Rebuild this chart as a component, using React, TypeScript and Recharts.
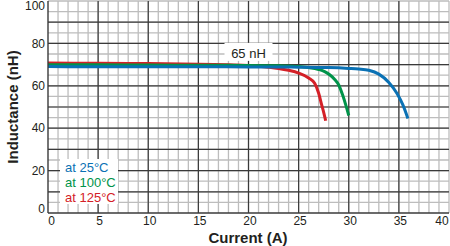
import React from "react";
import {
  LineChart,
  Line,
  XAxis,
  YAxis,
  ReferenceLine,
  ReferenceDot,
} from "recharts";

// Inductance vs. current at three temperatures
const current25 = [0, 5, 10, 15, 20, 25, 28, 30, 31, 32, 33, 34, 34.8, 35.4, 35.9];
const inductance25 = [69.1, 69.0, 69.0, 69.0, 68.9, 68.8, 68.6, 68.2, 67.9, 67.3, 65.5, 61.6, 56.5, 51.0, 44.6];

const current100 = [0, 5, 10, 15, 20, 23, 25, 26, 27, 27.6, 28.1, 28.6, 29, 29.4, 29.7, 30];
const inductance100 = [69.9, 69.9, 69.8, 69.7, 69.6, 69.4, 69.1, 68.6, 67.7, 66.7, 65.2, 63.0, 60.4, 55.5, 51.0, 46.0];

const current125 = [0, 5, 10, 15, 18, 20, 22, 23, 24, 25, 26, 26.6, 27, 27.3, 27.5, 27.7];
const inductance125 = [70.7, 70.6, 70.5, 70.2, 69.9, 69.6, 68.8, 68.2, 67.3, 66.0, 63.7, 61.2, 56.5, 51.0, 47.5, 43.5];

const xTicks = [0, 5, 10, 15, 20, 25, 30, 35, 40];
const yTicks = [0, 20, 40, 60, 80, 100];

const xMinorGrid = Array.from({ length: 40 }, (_, i) => i + 1);
const xMajorGrid = [5, 10, 15, 20, 25, 30, 35];
const yMinorGrid = Array.from({ length: 20 }, (_, i) => (i + 1) * 5);
const yMajorGrid = [10, 20, 30, 40, 50, 60, 70, 80, 90];

const annotationX = 20;
const annotationY = 76;
const annotationText = "65 nH";

const seriesNames = ["at 25°C", "at 100°C", "at 125°C"];
const COLORS = ["#0a71b4", "#00934a", "#d42027"];

const FONT = "'Liberation Sans', Arial, Helvetica, sans-serif";
const TEXT = "#231f20";
const MAJOR = "#3a3a3a";
const MINOR = "#bdbdbd";

const toPoints = (xs: number[], ys: number[]) =>
  xs.map((x, i) => ({ current: x, inductance: ys[i] }));

const data25 = toPoints(current25, inductance25);
const data100 = toPoints(current100, inductance100);
const data125 = toPoints(current125, inductance125);

const XTick = (props: any) => {
  const { x, y, payload } = props;
  const v = payload.value;
  const shift = v === 0 ? 3.5 : v === 40 ? -7 : 1.5;
  return (
    <text x={x + shift} y={y} dy="0.71em" textAnchor="middle" fontSize={12} fontFamily={FONT} fill={TEXT}>
      {v}
    </text>
  );
};

const YTick = (props: any) => {
  const { x, y, payload } = props;
  const v = payload.value;
  const shift = v === 100 ? 4.5 : v === 0 ? -4 : 0;
  return (
    <text x={x} y={y + shift} dy="0.355em" textAnchor="end" fontSize={12} fontFamily={FONT} fill={TEXT}>
      {v}
    </text>
  );
};

// Temperature key, boxed in white over the lower-left of the grid
const LegendBox = () => (
  <div
    style={{
      position: "absolute",
      left: 60,
      top: 159,
      background: "#ffffff",
      width: 58,
      height: 45,
      boxSizing: "border-box",
      padding: "1px 0 0 5px",
      fontFamily: FONT,
      fontSize: 13,
      lineHeight: "15px",
      textAlign: "left",
    }}
  >
    {seriesNames.map((name, i) => (
      <div key={name} style={{ color: COLORS[i], whiteSpace: "nowrap" }}>
        {name}
      </div>
    ))}
  </div>
);

const AnnotationBox = (props: any) => {
  const { cx, cy } = props;
  return (
    <g>
      <rect x={cx - 24} y={cy - 9} width={48} height={18} fill="#ffffff" />
      <text x={cx} y={cy + 2} dy="0.355em" textAnchor="middle" fontSize={13} fontFamily={FONT} fill={TEXT}>
        {annotationText}
      </text>
    </g>
  );
};

export default function App() {
  return (
    <div style={{ position: "fixed", left: 0, top: 0, width: 450, height: 246, background: "#fff" }}>
      <LineChart width={450} height={246} margin={{ top: 1, right: 1, bottom: 0, left: 0 }}>
        <XAxis
          type="number"
          dataKey="current"
          domain={[0, 40]}
          ticks={xTicks}
          interval={0}
          height={33}
          tickLine={false}
          tickSize={0}
          tickMargin={3}
          axisLine={{ stroke: MAJOR, strokeWidth: 1.4 }}
          tick={<XTick />}
          allowDataOverflow
        />
        <YAxis
          type="number"
          domain={[0, 100]}
          ticks={yTicks}
          interval={0}
          width={48}
          tickLine={false}
          tickSize={0}
          tickMargin={3}
          axisLine={{ stroke: MAJOR, strokeWidth: 1.4 }}
          tick={<YTick />}
          allowDataOverflow
        />
        {xMinorGrid.map((v) => (
          <ReferenceLine key={`xm${v}`} x={v} stroke={MINOR} strokeWidth={1.3} ifOverflow="visible" />
        ))}
        {yMinorGrid.map((v) => (
          <ReferenceLine key={`ym${v}`} y={v} stroke={MINOR} strokeWidth={1.3} ifOverflow="visible" />
        ))}
        {xMajorGrid.map((v) => (
          <ReferenceLine key={`xM${v}`} x={v} stroke={MAJOR} strokeWidth={1.2} />
        ))}
        {yMajorGrid.map((v) => (
          <ReferenceLine key={`yM${v}`} y={v} stroke={MAJOR} strokeWidth={1.2} />
        ))}
        <Line
          data={data125}
          dataKey="inductance"
          name={seriesNames[2]}
          type="monotone"
          stroke={COLORS[2]}
          strokeWidth={3}
          dot={false}
          isAnimationActive={false}
        />
        <Line
          data={data100}
          dataKey="inductance"
          name={seriesNames[1]}
          type="monotone"
          stroke={COLORS[1]}
          strokeWidth={3}
          dot={false}
          isAnimationActive={false}
        />
        <Line
          data={data25}
          dataKey="inductance"
          name={seriesNames[0]}
          type="monotone"
          stroke={COLORS[0]}
          strokeWidth={3}
          dot={false}
          isAnimationActive={false}
        />
        <ReferenceDot x={annotationX} y={annotationY} r={0} shape={<AnnotationBox />} ifOverflow="visible" />
        <text
          x={248}
          y={238}
          dy="0.355em"
          textAnchor="middle"
          fontSize={15}
          fontWeight="bold"
          fontFamily={FONT}
          fill={TEXT}
        >
          Current (A)
        </text>
        <text
          x={13}
          y={107}
          dy="0.355em"
          textAnchor="middle"
          fontSize={15}
          fontWeight="bold"
          fontFamily={FONT}
          fill={TEXT}
          transform="rotate(-90, 13, 107)"
        >
          Inductance (nH)
        </text>
      </LineChart>
      <LegendBox />
    </div>
  );
}
